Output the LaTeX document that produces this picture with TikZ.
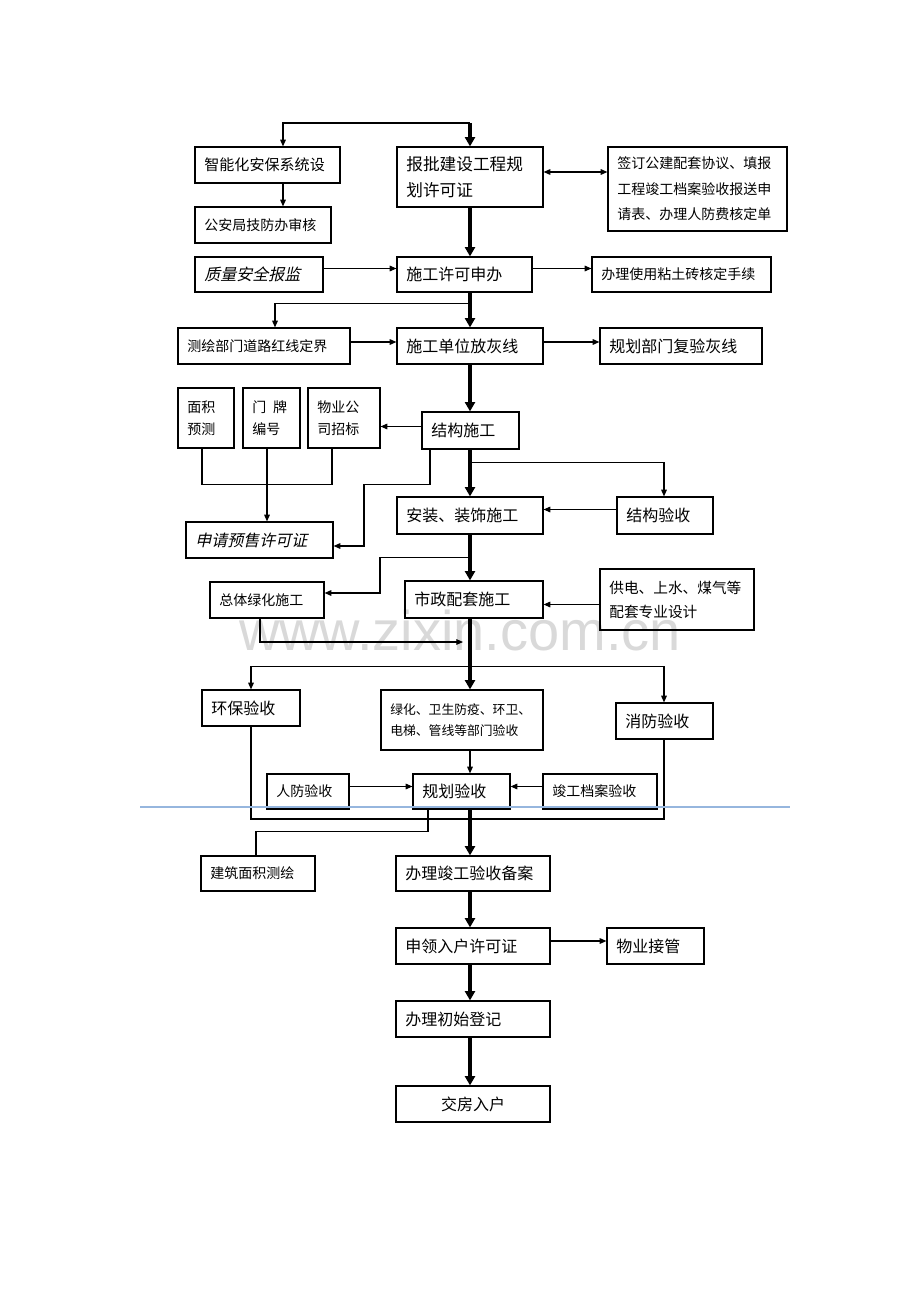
\documentclass[tikz,border=0pt]{standalone}
\usepackage{fontspec}
\setmainfont{Noto Sans CJK SC}
\newfontfamily\slfont[FakeSlant=0.22]{Noto Sans CJK SC}
\newfontfamily\wmfont{Liberation Sans}
\usetikzlibrary{arrows.meta,calc}
\tikzset{
  box/.style={draw=black,line width=0.9pt,inner xsep=7pt,inner ysep=1pt,align=left,font=\fontsize{12}{20}\selectfont},
  sm/.style={font=\fontsize{10.5}{19}\selectfont},
  ctr/.style={align=center},
  ln/.style={line width=0.8pt},
  arr/.style={ln,-{Triangle[length=5pt,width=4.2pt]}},
  darr/.style={ln,{Triangle[length=5pt,width=4.2pt]}-{Triangle[length=5pt,width=4.2pt]}},
  tk/.style={line width=2.4pt},
  tkarr/.style={tk,-{Triangle[length=7pt,width=7.5pt]}},
  blueline/.style={line width=0.8pt,draw={rgb,255:red,150;green,182;blue,222}},
}
\newcommand\mybox[7][]{%
  \pgfmathsetmacro\mbW{(#5-#3)*0.75}%
  \pgfmathsetmacro\mbH{(#6-#4)*0.75}%
  \pgfmathsetmacro\mbT{(#5-#3)*0.75-14}%
  \node[box,minimum width=\mbW pt,minimum height=\mbH pt,text width=\mbT pt,#1] (#2) at ({(#3+#5)/2},{(#4+#6)/2}) {#7};}
\begin{document}
\begin{tikzpicture}[x=0.75pt,y=-0.75pt]
\useasboundingbox (0,0) rectangle (920,1302);
\node[font=\wmfont\fontsize{42}{42}\selectfont,text=black!15,anchor=base,inner sep=0pt] (wm) at (460,650) {www.zixin.com.cn};
\coordinate (T) at (470,0);
\coordinate (top) at (470,123);
\coordinate (xA) at (283,0);
\coordinate (xB) at (275,0);
\coordinate (xC) at (202,0);
\coordinate (xD) at (267,0);
\coordinate (xE) at (332,0);
\coordinate (xF) at (430,0);
\coordinate (xG) at (364,0);
\coordinate (xH) at (664,0);
\coordinate (xI) at (380,0);
\coordinate (xJ) at (260,0);
\coordinate (xK) at (251,0);
\coordinate (xM) at (428,0);
\coordinate (xN) at (256,0);
\coordinate (yL) at (0,819);
\coordinate (m1) at (463,642);
% boxes
\mybox[font=\fontsize{11.3}{20}\selectfont]{zn}{195}{147}{340}{183}{智能化安保系统设}
\mybox[sm]{ga}{195}{207}{331}{243}{公安局技防办审核}
\mybox[font=\fontsize{12.5}{20}\selectfont]{bp}{397}{147}{543}{207}{报批建设工程规\\划许可证}
\mybox[font=\fontsize{10.5}{19}\selectfont]{rt}{608}{147}{787}{231}{签订公建配套协议、填报\\工程竣工档案验收报送申\\请表、办理人防费核定单}
\mybox[font=\slfont\fontsize{12}{20}\selectfont]{zl}{195}{257}{323}{292}{质量安全报监}
\mybox{sx}{397}{257}{532}{292}{施工许可申办}
\mybox[sm]{bl}{592}{257}{771}{292}{办理使用粘土砖核定手续}
\mybox[sm]{ch}{178}{328}{350}{364}{测绘部门道路红线定界}
\mybox{sd}{397}{328}{543}{364}{施工单位放灰线}
\mybox{gf}{600}{328}{762}{364}{规划部门复验灰线}
\mybox[font=\fontsize{10.5}{16.5}\selectfont]{mj}{178}{388}{234}{448}{面积\\预测}
\mybox[font=\fontsize{10.5}{16.5}\selectfont]{mp}{243}{388}{300}{448}{门\hspace{5pt}牌\\编号}
\mybox[font=\fontsize{10.5}{16.5}\selectfont]{wy}{308}{388}{380}{448}{物业公\\司招标}
\mybox{jg}{422}{412}{519}{449}{结构施工}
\mybox[font=\slfont\fontsize{12}{20}\selectfont]{sq}{186}{522}{333}{558}{申请预售许可证}
\mybox{az}{397}{497}{543}{534}{安装、装饰施工}
\mybox{jy}{617}{497}{713}{534}{结构验收}
\mybox[sm]{zt}{210}{582}{324}{618}{总体绿化施工}
\mybox{sz}{405}{581}{543}{618}{市政配套施工}
\mybox[font=\fontsize{11}{18}\selectfont]{gd}{600}{569}{754}{630}{供电、上水、煤气等\\配套专业设计}
\mybox{hb}{202}{690}{300}{726}{环保验收}
\mybox[font=\fontsize{9.6}{16}\selectfont]{lh}{381}{690}{543}{750}{绿化、卫生防疫、环卫、\\电梯、管线等部门验收}
\mybox{xf}{616}{703}{713}{739}{消防验收}
\mybox[sm]{rf}{267}{774}{349}{809}{人防验收}
\mybox{gy}{413}{774}{510}{809}{规划验收}
\mybox[sm]{jd}{543}{774}{657}{809}{竣工档案验收}
\mybox[sm]{jz}{201}{856}{315}{891}{建筑面积测绘}
\mybox{ba}{396}{856}{550}{891}{办理竣工验收备案}
\mybox{sl}{396}{928}{550}{964}{申领入户许可证}
\mybox{wj}{607}{928}{704}{964}{物业接管}
\mybox{cs}{396}{1001}{550}{1037}{办理初始登记}
\mybox[ctr]{jf}{396}{1086}{550}{1122}{交房入户}
% connectors
\draw[arr] (top) -| (zn.north -| xA);
\draw[tkarr] (top) -- (bp.north -| T);
\draw[arr] (zn.south -| xA) -- (ga.north -| xA);
\draw[darr] ($(bp.east)+(0,-5)$) -- ($(bp.east -| rt.west)+(0,-5)$);
\draw[tkarr] (bp.south -| T) -- (sx.north -| T);
\draw[arr] ($(zl.east)+(0,-6)$) -- ($(zl.east -| sx.west)+(0,-6)$);
\draw[arr] ($(sx.east)+(0,-6)$) -- ($(sx.east -| bl.west)+(0,-6)$);
\draw[tkarr] (sx.south -| T) -- (sd.north -| T);
\draw[arr] ($(sx.south -| T)+(0,11)$) -| (ch.north -| xB);
\draw[arr] ($(ch.east)+(0,-4)$) -- ($(ch.east -| sd.west)+(0,-4)$);
\draw[arr] ($(sd.east)+(0,-4)$) -- ($(sd.east -| gf.west)+(0,-4)$);
\draw[tkarr] (sd.south -| T) -- (jg.north -| T);
\draw[arr] ($(jg.west)+(0,-4)$) -- ($(jg.west -| wy.east)+(0,-4)$);
\draw[ln] (mj.south -| xC) -- ++(0,36) -| (wy.south -| xE);
\draw[arr] (mp.south -| xD) -- (sq.north -| xD);
\draw[arr] (jg.south -| xF) -- ++(0,35) -| ($(sq.east -| xG)+(0,6)$) -- ($(sq.east)+(0,6)$);
\draw[tkarr] (jg.south -| T) -- (az.north -| T);
\draw[arr] ($(jg.south -| T)+(0,13)$) -| (jy.north -| xH);
\draw[arr] ($(jy.west)+(0,-6)$) -- ($(jy.west -| az.east)+(0,-6)$);
\draw[tkarr] (az.south -| T) -- (sz.north -| T);
\draw[arr] ($(az.south -| T)+(0,23)$) -| ($(zt.east -| xI)+(0,-7)$) -- ($(zt.east)+(0,-7)$);
\draw[arr] ($(gd.west)+(0,5)$) -- ($(gd.west -| sz.east)+(0,5)$);
\draw[arr] (zt.south -| xJ) |- (m1);
\draw[tkarr] (sz.south -| T) -- (lh.north -| T);
\draw[arr] ($(sz.south -| T)+(0,48)$) -| (hb.north -| xK);
\draw[arr] ($(sz.south -| T)+(0,48)$) -| (xf.north -| xH);
\draw[arr] (lh.south -| T) -- (gy.north -| T);
\draw[arr] ($(rf.east)+(0,-5)$) -- ($(rf.east -| gy.west)+(0,-5)$);
\draw[arr] ($(jd.west)+(0,-5)$) -- ($(jd.west -| gy.east)+(0,-5)$);
\draw[ln] (hb.south -| xK) -- (xK |- yL) -- (xH |- yL) -- (xf.south -| xH);
\draw[tkarr] (gy.south -| T) -- (ba.north -| T);
\draw[ln] (gy.south -| xM) -- ++(0,22) -| (jz.north -| xN);
\draw[tkarr] (ba.south -| T) -- (sl.north -| T);
\draw[arr] ($(sl.east)+(0,-5)$) -- ($(sl.east -| wj.west)+(0,-5)$);
\draw[tkarr] (sl.south -| T) -- (cs.north -| T);
\draw[tkarr] (cs.south -| T) -- (jf.north -| T);
\draw[blueline] (140,807) -- (790,807);
\end{tikzpicture}
\end{document}
